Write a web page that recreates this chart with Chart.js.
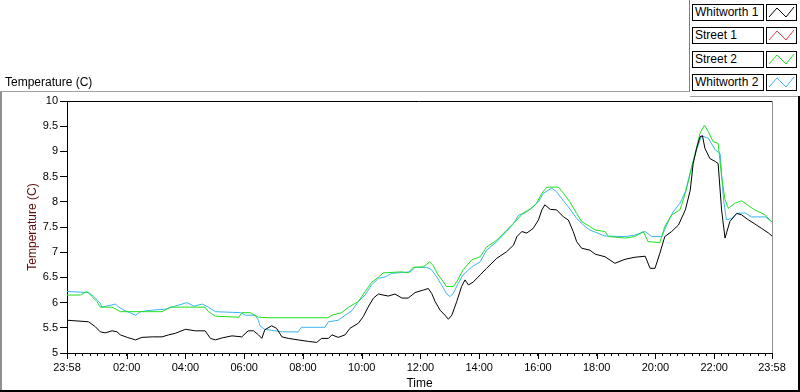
<!DOCTYPE html>
<html>
<head>
<meta charset="utf-8">
<script src="https://cdn.jsdelivr.net/npm/chart.js@4/dist/chart.umd.min.js"></script>
<style>
  html, body { margin: 0; padding: 0; background: #fff; }
  #wrap { position: relative; width: 800px; height: 392px; overflow: hidden; font-family: "Liberation Sans", Arial, sans-serif; }
  #c { position: absolute; left: 0; top: 0; }
  .ln { position: absolute; }
  #topTitle { position: absolute; left: 5px; top: 75px; font-size: 12px; line-height: 14px; color: #000; white-space: nowrap; }
  .lgLabel { position: absolute; left: 692px; width: 68px; height: 15px; border: 1px solid #000; font-size: 12px; line-height: 15px; padding-left: 2px; box-sizing: content-box; white-space: nowrap; color: #000; background: #fff; }
  .lgIcon { position: absolute; left: 766px; width: 29px; height: 15px; border: 1px solid #000; background: #fff; }
</style>
</head>
<body>
<div id="wrap">
  <canvas id="c" width="800" height="392"></canvas>
  <div id="topTitle">Temperature (C)</div>
  <div id="legend"></div>
</div>
<script>
// ---- data (minutes since 23:58, temperature in C) ----
const seriesNames = ['Whitworth 1', 'Street 1', 'Street 2', 'Whitworth 2'];
const seriesColors = ['#000000', '#f03c3c', '#1ee01e', '#3cb4f0'];

const w1Minutes = [0,44,58,68,78,92,102,109,123,140,153,174,194,208,221,242,262,282,293,303,317,337,357,370,381,391,398,404,418,428,439,452,472,493,510,520,534,541,554,568,578,595,605,615,626,636,656,670,684,697,711,728,738,745,752,762,772,779,786,796,806,813,820,830,844,857,878,898,912,919,929,939,952,963,970,976,987,1000,1014,1024,1034,1041,1051,1068,1079,1099,1119,1140,1160,1181,1191,1201,1211,1221,1235,1249,1263,1273,1279,1286,1293,1298,1303,1313,1324,1330,1337,1344,1354,1368,1378,1392,1405,1419,1433,1440];
const w1Temps = [5.65,5.62,5.52,5.42,5.40,5.44,5.42,5.36,5.31,5.26,5.31,5.32,5.32,5.36,5.39,5.47,5.44,5.44,5.29,5.26,5.30,5.34,5.32,5.44,5.44,5.36,5.29,5.46,5.54,5.49,5.32,5.29,5.26,5.23,5.21,5.29,5.29,5.36,5.31,5.36,5.49,5.59,5.72,5.91,6.09,6.17,6.13,6.17,6.09,6.09,6.20,6.25,6.28,6.18,6.02,5.85,5.75,5.67,5.75,6.02,6.32,6.45,6.35,6.41,6.55,6.68,6.88,7.01,7.14,7.31,7.41,7.38,7.47,7.64,7.84,7.94,7.85,7.84,7.70,7.64,7.41,7.21,7.08,7.04,6.96,6.91,6.78,6.86,6.90,6.92,6.68,6.68,6.98,7.31,7.41,7.54,7.84,8.23,8.76,9.06,9.29,9.31,9.06,8.86,8.80,8.76,7.84,7.28,7.61,7.77,7.74,7.64,7.56,7.47,7.38,7.32];

const s1Minutes = [];
const s1Temps = [];

const s2Minutes = [0,27,41,51,61,68,92,109,194,204,211,282,289,303,351,357,374,391,411,533,541,561,575,595,609,622,636,646,684,697,707,728,741,748,758,769,775,789,796,809,827,844,857,878,898,919,932,946,959,970,980,1004,1014,1027,1041,1051,1068,1079,1099,1106,1140,1160,1177,1187,1211,1221,1235,1252,1263,1273,1283,1293,1302,1310,1320,1330,1337,1344,1351,1364,1378,1392,1405,1426,1440];
const s2Temps = [6.15,6.15,6.22,6.12,6.02,5.91,5.91,5.82,5.82,5.87,5.91,5.91,5.82,5.73,5.71,5.80,5.80,5.71,5.70,5.70,5.75,5.80,5.91,6.02,6.22,6.40,6.50,6.59,6.61,6.59,6.70,6.71,6.81,6.73,6.55,6.41,6.32,6.32,6.41,6.65,6.85,6.91,7.10,7.24,7.44,7.64,7.78,7.85,7.97,8.17,8.29,8.29,8.17,8.00,7.77,7.61,7.51,7.44,7.41,7.31,7.28,7.31,7.41,7.21,7.19,7.51,7.74,7.84,8.17,8.56,8.96,9.36,9.52,9.39,9.19,9.16,8.50,8.04,7.87,7.97,8.02,7.92,7.84,7.74,7.59];

const w2Minutes = [0,44,55,68,71,99,106,116,140,150,174,201,214,245,259,276,289,303,355,364,384,391,394,404,439,472,479,527,534,554,568,582,595,609,622,636,650,663,701,711,735,745,755,765,775,782,789,799,809,827,844,857,878,898,912,923,936,952,963,973,990,1000,1010,1024,1041,1058,1068,1099,1140,1160,1181,1194,1215,1225,1238,1252,1263,1276,1286,1296,1310,1324,1334,1341,1347,1357,1368,1385,1398,1426,1440];
const w2Temps = [6.22,6.20,6.12,5.99,5.91,5.97,5.91,5.85,5.75,5.82,5.85,5.87,5.91,6.00,5.93,5.97,5.91,5.82,5.80,5.75,5.75,5.65,5.54,5.47,5.42,5.42,5.51,5.51,5.62,5.65,5.75,5.84,6.02,6.15,6.35,6.48,6.51,6.58,6.61,6.70,6.70,6.65,6.51,6.35,6.18,6.12,6.18,6.38,6.55,6.71,6.81,7.04,7.21,7.41,7.57,7.74,7.78,7.90,8.00,8.17,8.27,8.20,8.07,7.90,7.67,7.51,7.44,7.32,7.31,7.34,7.41,7.31,7.31,7.54,7.80,7.97,8.20,8.70,9.03,9.31,9.26,9.03,8.96,8.04,7.64,7.67,7.77,7.78,7.70,7.70,7.61];

const tickMinutes = [0,122,242,362,482,602,722,842,962,1082,1202,1322,1440];
const tickLabels = ['23:58','02:00','04:00','06:00','08:00','10:00','12:00','14:00','16:00','18:00','20:00','22:00','23:58'];
const yMin = 5, yMax = 10, yStep = 0.5;

// ---- build ----
function pts(mins, temps) { return mins.map((m, i) => ({ x: m, y: temps[i] })); }
const minuteSets = [w1Minutes, s1Minutes, s2Minutes, w2Minutes];
const tempSets = [w1Temps, s1Temps, s2Temps, w2Temps];

const minorTicks = [];
for (let m = 17; m < 1440; m += 15) minorTicks.push(m);
const allTicks = Array.from(new Set([...tickMinutes, ...minorTicks])).sort((a, b) => a - b);

// Legend (HTML)
const lg = document.getElementById('legend');
seriesNames.forEach((name, i) => {
  const top = 4 + Math.round(i * 23.4);
  const lab = document.createElement('div');
  lab.className = 'lgLabel'; lab.style.top = top + 'px'; lab.textContent = name;
  lg.appendChild(lab);
  const ic = document.createElement('div');
  ic.className = 'lgIcon'; ic.style.top = top + 'px';
  ic.innerHTML = '<svg width="29" height="15" style="display:block"><polyline points="2,12 10,3 19,12 27,2" fill="none" stroke="' + seriesColors[i] + '" stroke-width="1"/></svg>';
  lg.appendChild(ic);
});

// Frame lines (decoration)
const wrap = document.getElementById('wrap');
function line(l, t, w, h, c) {
  const d = document.createElement('div'); d.className = 'ln';
  d.style.left = l + 'px'; d.style.top = t + 'px'; d.style.width = w + 'px'; d.style.height = h + 'px'; d.style.background = c;
  wrap.appendChild(d);
}
line(0, 91, 690, 1, '#a0a0a0');
line(689, 0, 1, 92, '#808080');
line(690, 96, 110, 1, '#a0a0a0');
line(0, 92, 2, 300, '#909090');
line(0, 390, 800, 2, '#000');
line(798, 96, 2, 296, '#000');

const framePlugin = {
  id: 'frame',
  afterDraw(chart) {
    const { ctx, chartArea: a, scales: { x } } = chart;
    ctx.save();
    ctx.lineWidth = 1;
    ctx.strokeStyle = '#000';
    ctx.beginPath(); ctx.moveTo(a.left, a.top + 0.5); ctx.lineTo(a.right, a.top + 0.5); ctx.stroke();
    ctx.strokeStyle = '#909090';
    ctx.beginPath(); ctx.moveTo(a.right + 0.5, a.top); ctx.lineTo(a.right + 0.5, a.bottom); ctx.stroke();
    ctx.strokeStyle = '#000';
    tickMinutes.forEach(m => {
      const px = Math.round(x.getPixelForValue(m)) + 0.5;
      ctx.beginPath(); ctx.moveTo(px, a.bottom); ctx.lineTo(px, a.bottom + 6); ctx.stroke();
    });
    ctx.restore();
  }
};

const tickFont = { family: 'Liberation Sans', size: 11 };
new Chart(document.getElementById('c'), {
  type: 'line',
  data: {
    datasets: seriesNames.map((name, i) => ({
      label: name,
      data: pts(minuteSets[i], tempSets[i]),
      borderColor: seriesColors[i],
      backgroundColor: seriesColors[i],
      borderWidth: 1,
      pointRadius: 0,
      tension: 0,
      fill: false,
      order: i === 0 ? 0 : (i === 2 ? 1 : 2)
    }))
  },
  options: {
    responsive: false,
    animation: false,
    devicePixelRatio: 1,
    layout: { padding: { left: 0, top: 101, right: 28, bottom: 0 } },
    plugins: { legend: { display: false }, tooltip: { enabled: false } },
    scales: {
      x: {
        type: 'linear', min: 0, max: 1440,
        afterFit(s) { s.height = 39; },
        afterBuildTicks(s) { s.ticks = allTicks.map(v => ({ value: v })); },
        ticks: {
          autoSkip: false, maxRotation: 0, minRotation: 0, padding: 5, color: '#000', font: tickFont,
          callback(v) { const k = tickMinutes.indexOf(v); return k >= 0 ? tickLabels[k] : ''; }
        },
        grid: { drawOnChartArea: false, drawTicks: true, tickLength: 3, color: '#000' },
        border: { display: true, color: '#000', width: 1 },
        title: { display: true, text: 'Time', color: '#000', font: { family: 'Liberation Sans', size: 12 }, padding: { top: 0, bottom: 1 } }
      },
      y: {
        min: yMin, max: yMax,
        afterFit(s) { s.width = 67; },
        ticks: { stepSize: yStep, padding: 2, color: '#000', font: tickFont, callback(v) { return String(v); } },
        grid: { drawOnChartArea: false, drawTicks: true, tickLength: 7, color: '#000' },
        border: { display: true, color: '#000', width: 1 },
        title: { display: true, text: 'Temperature (C)', color: '#5c0a0a', font: { family: 'Liberation Sans', size: 12 }, padding: { top: 25, bottom: 0 } }
      }
    }
  },
  plugins: [framePlugin]
});
</script>
</body>
</html>
